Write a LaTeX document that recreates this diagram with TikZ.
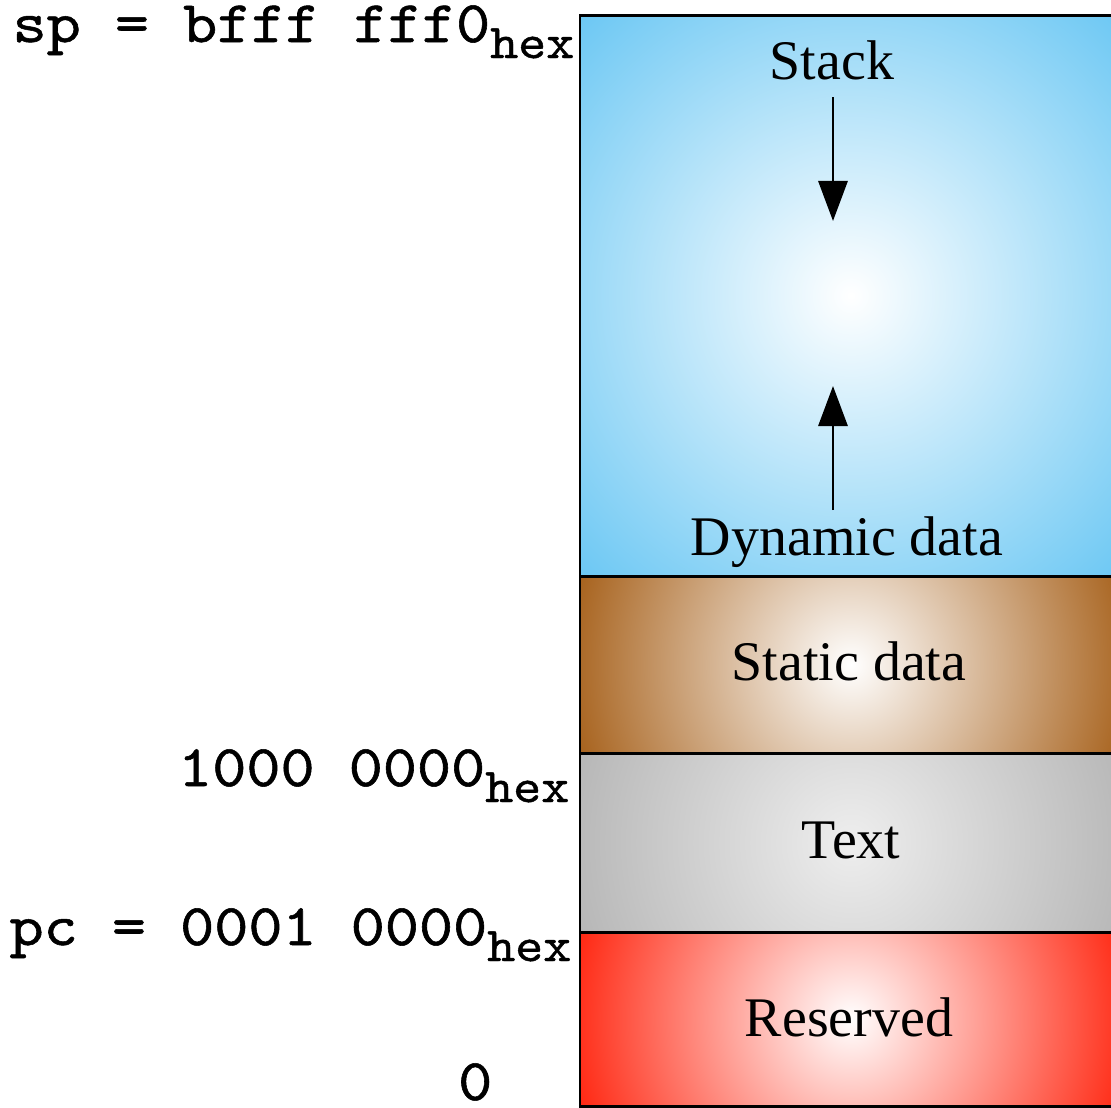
\documentclass[tikz,border=0pt]{standalone}
\usepackage{fontspec}
\usepackage{graphicx}
\setmainfont{Liberation Serif}
\newfontfamily\codefont{lmmono10-regular.otf}[FakeBold=0.9]
\usetikzlibrary{arrows.meta}

% segment colours (edge colour of each radial gradient)
\definecolor{stackblue}{RGB}{104,198,243}
\definecolor{staticbrown}{RGB}{166,96,26}
\definecolor{textgray}{RGB}{182,182,182}
\definecolor{textgraylight}{RGB}{238,238,238}
\definecolor{reservedred}{RGB}{255,36,14}

% address label: typewriter value with a "hex" subscript
\newcommand{\addr}[1]{\scalebox{1.1}[1]{\codefont\fontsize{16.8pt}{18pt}\selectfont #1}}
\newcommand{\hexsub}{\raisebox{-0.16cm}{\scalebox{1.1}[1]{\codefont\fontsize{13.8pt}{14pt}\selectfont hex}}}

% one memory segment: flat edge colour plus a round white glow in the middle
% #1 top, #2 bottom, #3 edge colour, #4 centre colour, #5 glow radius
\newcommand{\segfill}[5]{%
  \begin{scope}
    \clip (580,#1) rectangle (1125,#2);
    \fill[#3] (580,#1) rectangle (1125,#2);
    \shade[inner color=#4, outer color=#3] (851,{(#1+#2)/2}) circle (#5);
  \end{scope}}

\begin{document}
\begin{tikzpicture}[x=0.01cm, y=-0.01cm,
  segtext/.style={font=\fontsize{15.9pt}{18pt}\selectfont, inner sep=0pt, anchor=base},
  addrlabel/.style={inner sep=0pt, anchor=base east},
  wall/.style={draw=black, line width=0.85pt},
  growth/.style={line width=0.75pt, -{Triangle[width=8.3pt,length=11.4pt]}}]

\useasboundingbox (0,0) rectangle (1111,1108);
\clip (0,0) rectangle (1111,1108);

% shaded segments, top to bottom
\segfill{15}{576}{stackblue}{white}{4.0cm}
\segfill{576}{753}{staticbrown}{white}{2.9cm}
\segfill{753}{932}{textgray}{textgraylight}{2.9cm}
\segfill{932}{1106}{reservedred}{white}{2.9cm}

% outline and dividers
\draw[wall] (580,15) rectangle (1125,1106);
\draw[wall] (580,576) -- (1125,576);
\draw[wall] (580,753) -- (1125,753);
\draw[wall] (580,932) -- (1125,932);

% segment names
\node[segtext] (stack)    at (832,79)   {Stack};
\node[segtext] (dynamic)  at (847,555)  {Dynamic data};
\node[segtext] (static)   at (849,680)  {Static data};
\node[segtext] (textseg)  at (851,858)  {Text};
\node[segtext] (reserved) at (849,1036) {Reserved};

% growth directions of stack and heap
\coordinate (stacktop)  at (833,97);
\coordinate (stacktip)  at (833,221);
\coordinate (heapbase)  at (833,510);
\coordinate (heaptip)   at (833,386);
\draw[growth] (stacktop) -- (stacktip);
\draw[growth] (heapbase) -- (heaptip);

% addresses on the left
\node[addrlabel] (sp)   at (575,42)   {\addr{sp = bfff fff0}\hexsub};
\node[addrlabel] (gp)   at (570,786)  {\addr{1000 0000}\hexsub};
\node[addrlabel] (pc)   at (572,945)  {\addr{pc = 0001 0000}\hexsub};
\node[addrlabel] (zero) at (493,1100) {\addr{0}};
\end{tikzpicture}
\end{document}
